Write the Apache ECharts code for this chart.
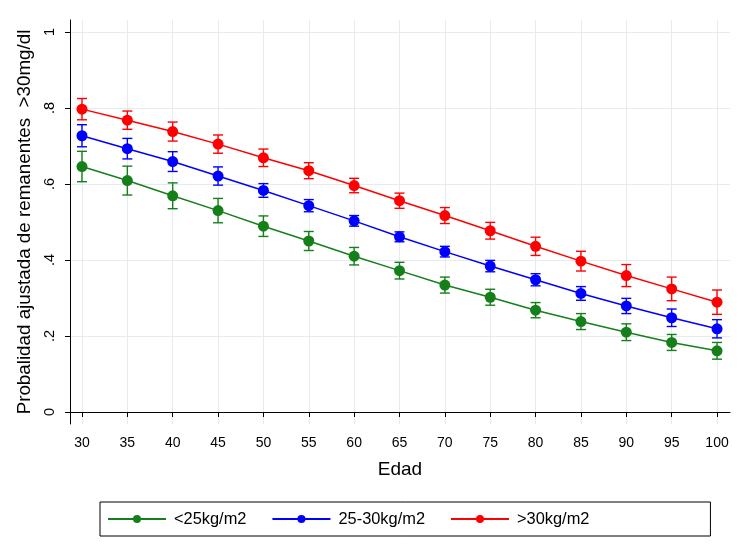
<!DOCTYPE html>
<html>
<head>
<meta charset="utf-8">
<script src="https://cdn.jsdelivr.net/npm/echarts@6/dist/echarts.min.js"></script>
<style>
html,body{margin:0;padding:0;background:#fff;}
#chart{width:750px;height:545px;}
</style>
</head>
<body>
<div id="chart"></div>
<script>
// Data
var ages = [30, 35, 40, 45, 50, 55, 60, 65, 70, 75, 80, 85, 90, 95, 100];
var yTicks = [0, 0.2, 0.4, 0.6, 0.8, 1];

var seriesNames = ['<25kg/m2', '25-30kg/m2', '>30kg/m2'];
var seriesColors = ['#15801a', '#0000ff', '#ff0000'];

var lowBmi =  [0.646, 0.609, 0.569, 0.530, 0.489, 0.450, 0.410, 0.372, 0.334, 0.302, 0.268, 0.238, 0.210, 0.183, 0.161];
var midBmi =  [0.727, 0.693, 0.659, 0.621, 0.583, 0.543, 0.503, 0.461, 0.422, 0.384, 0.348, 0.312, 0.279, 0.248, 0.219];
var highBmi = [0.797, 0.768, 0.738, 0.705, 0.669, 0.635, 0.596, 0.556, 0.517, 0.477, 0.436, 0.397, 0.359, 0.324, 0.289];

// Half-widths of the 95% confidence intervals
var lowErr =  [0.040, 0.038, 0.034, 0.032, 0.027, 0.025, 0.023, 0.022, 0.021, 0.021, 0.020, 0.021, 0.022, 0.021, 0.022];
var midErr =  [0.029, 0.027, 0.026, 0.024, 0.018, 0.016, 0.014, 0.013, 0.014, 0.015, 0.016, 0.018, 0.020, 0.023, 0.024];
var highErr = [0.028, 0.024, 0.025, 0.024, 0.023, 0.021, 0.019, 0.020, 0.021, 0.022, 0.024, 0.026, 0.029, 0.031, 0.032];

var values = [lowBmi, midBmi, highBmi];
var errs = [lowErr, midErr, highErr];

var chart = echarts.init(document.getElementById('chart'), null, {renderer: 'canvas'});
var FONT = 'Liberation Sans, Arial, Helvetica, sans-serif';

var series = [];
values.forEach(function (vals, si) {
  var col = seriesColors[si];
  var e = errs[si];
  var errData = ages.map(function (a, i) { return [a, vals[i] - e[i], vals[i] + e[i]]; });
  series.push({
    type: 'custom',
    name: seriesNames[si] + '_ci',
    data: errData,
    z: 3,
    silent: true,
    encode: {x: 0, y: [1, 2]},
    renderItem: function (params, api) {
      var x = api.value(0);
      var lo = api.coord([x, api.value(1)]);
      var hi = api.coord([x, api.value(2)]);
      var hw = 5;
      var st = {stroke: col, lineWidth: 1.4};
      return {
        type: 'group',
        children: [
          {type: 'line', shape: {x1: lo[0], y1: lo[1], x2: hi[0], y2: hi[1]}, style: st},
          {type: 'line', shape: {x1: lo[0] - hw, y1: lo[1], x2: lo[0] + hw, y2: lo[1]}, style: st},
          {type: 'line', shape: {x1: hi[0] - hw, y1: hi[1], x2: hi[0] + hw, y2: hi[1]}, style: st}
        ]
      };
    }
  });
  series.push({
    type: 'line',
    name: seriesNames[si],
    data: ages.map(function (a, i) { return [a, vals[i]]; }),
    symbol: 'circle',
    symbolSize: 11,
    z: 4,
    lineStyle: {color: col, width: 1.5},
    itemStyle: {color: col, borderWidth: 0},
    emphasis: {disabled: true},
    animation: false
  });
});

var option = {
  backgroundColor: '#ffffff',
  animation: false,
  textStyle: {fontFamily: FONT},
  grid: {left: 70, right: 20, top: 20, bottom: 121, containLabel: false},
  xAxis: {
    type: 'value',
    min: 28.68,
    max: 101.43,
    name: 'Edad',
    nameLocation: 'middle',
    nameGap: 36,
    nameTextStyle: {fontSize: 19, color: '#000', fontFamily: FONT},
    axisLine: {show: true, lineStyle: {color: '#000', width: 1}},
    axisTick: {show: true, length: 5, lineStyle: {color: '#000'}, customValues: ages},
    axisLabel: {fontSize: 14, color: '#000', margin: 12, customValues: ages, fontFamily: FONT},
    splitLine: {show: true, lineStyle: {color: '#e6ebf0', width: 1}}
  },
  yAxis: {
    type: 'value',
    min: -0.0316,
    max: 1.0316,
    name: 'Probalidad ajustada de remanentes  >30mg/dl',
    nameLocation: 'middle',
    nameGap: 35,
    nameRotate: 90,
    nameTextStyle: {fontSize: 18.8, color: '#000', fontFamily: FONT},
    axisLine: {show: true, lineStyle: {color: '#000', width: 1}},
    axisTick: {show: true, length: 5, lineStyle: {color: '#000'}, customValues: yTicks},
    axisLabel: {
      fontSize: 14.5, color: '#000', margin: 13, rotate: 90, customValues: yTicks, fontFamily: FONT,
      formatter: function (v) {
        if (Math.abs(v) < 1e-9) return '0';
        if (Math.abs(v - 1) < 1e-9) return '1';
        return '.' + Math.round(v * 10);
      }
    },
    splitLine: {show: true, lineStyle: {color: '#e6ebf0', width: 1}}
  },
  legend: {
    data: seriesNames,
    left: 100,
    top: 502,
    orient: 'horizontal',
    padding: [9, 121, 9, 7],
    itemGap: 25,
    itemWidth: 58,
    itemHeight: 10,
    borderColor: '#000',
    borderWidth: 1,
    textStyle: {fontSize: 16.4, color: '#000', fontFamily: FONT, padding: [0, 0, 0, 3]},
    selectedMode: false
  },
  series: series
};
chart.setOption(option);
</script>
</body>
</html>
